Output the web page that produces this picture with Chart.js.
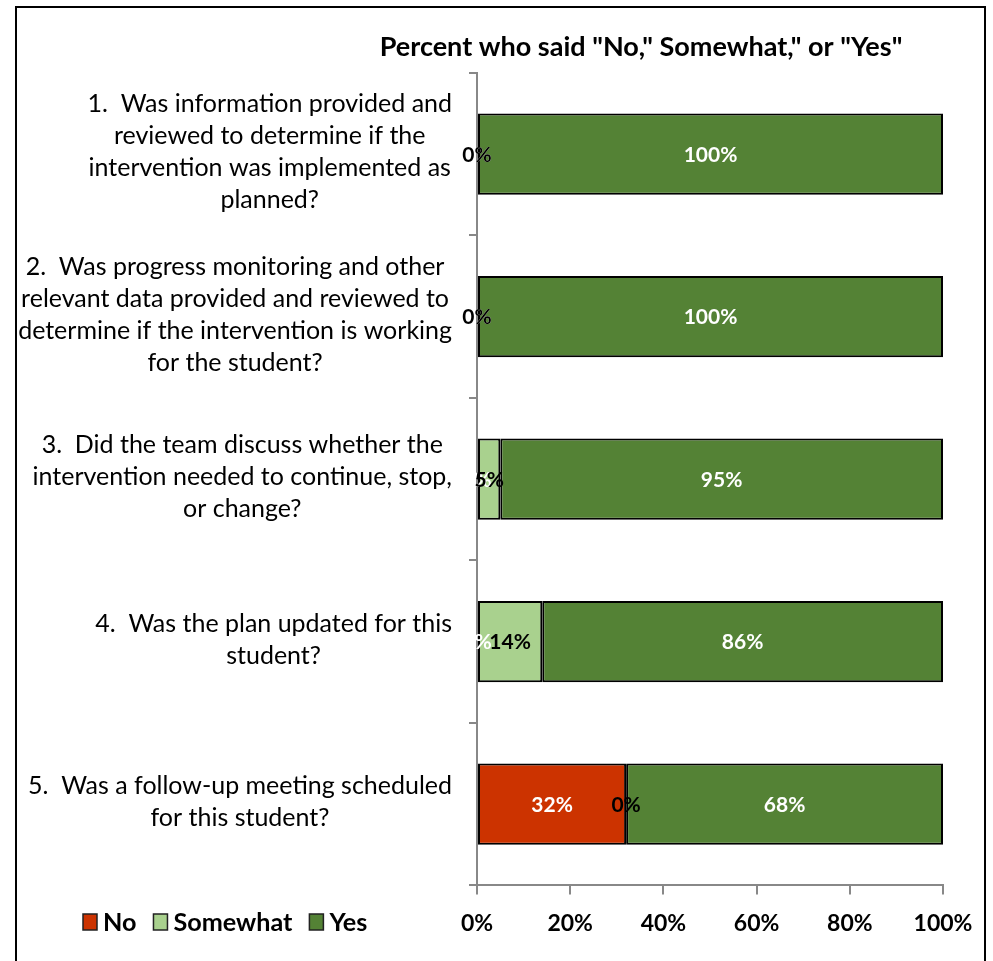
<!DOCTYPE html>
<html>
<head>
<meta charset="utf-8">
<script src="https://cdn.jsdelivr.net/npm/chart.js@4.4.1/dist/chart.umd.min.js"></script>
<style>
    html, body { margin: 0; padding: 0; background: #fff; overflow: hidden; }
    #wrap { position: relative; width: 993px; height: 961px; }
    #frame { position: absolute; left: 15px; top: 6px; width: 971px; height: 980px; border: 2px solid #000; box-sizing: border-box; pointer-events: none; }
    #surveyChart { position: absolute; left: 0; top: 0; }
</style>
</head>
<body>
<div id="wrap">
    <canvas id="surveyChart" width="993" height="961"></canvas>
    <div id="frame"></div>
</div>
<script>
// Survey data
const questions = [
    ['1.  Was information provided and', 'reviewed to determine if the', 'intervention was implemented as', 'planned?'],
    ['2.  Was progress monitoring and other', 'relevant data provided and reviewed to', 'determine if the intervention is working', 'for the student?'],
    ['3.  Did the team discuss whether the', 'intervention needed to continue, stop,', 'or change?'],
    ['4.  Was the plan updated for this', 'student?'],
    ['5.  Was a follow-up meeting scheduled', 'for this student?']
];
const seriesNames = ['No', 'Somewhat', 'Yes'];
const noValues = [0, 0, 0, 0, 32];
const somewhatValues = [0, 0, 5, 14, 0];
const yesValues = [100, 100, 95, 86, 68];
const xTickValues = [0, 20, 40, 60, 80, 100];
const chartTitle = 'Percent who said "No," Somewhat," or "Yes"';

const FONT = 'Lato, "Open Sans", sans-serif';
const seriesColors = ['#CC3300', '#A9D18E', '#548235'];
const labelColors = ['#ffffff', '#000000', '#ffffff'];

// fit a font size so that text reaches a target width
function fitSize(ctx, text, weight, target) {
    ctx.font = weight + ' 100px ' + FONT;
    return 100 * target / ctx.measureText(text).width;
}

const annotatePlugin = {
    id: 'annotate',
    afterDatasetsDraw(chart) {
        const ctx = chart.ctx;
        ctx.save();
        ctx.textAlign = 'center';
        ctx.textBaseline = 'middle';
        ctx.font = 'bold 21px ' + FONT;
        chart.data.datasets.forEach((ds, di) => {
            const meta = chart.getDatasetMeta(di);
            ctx.fillStyle = labelColors[di];
            meta.data.forEach((bar, i) => {
                const x = (bar.x + bar.base) / 2;
                ctx.fillText(ds.data[i] + '%', x, bar.y + 1);
            });
        });
        ctx.restore();
    },
    afterDraw(chart) {
        const ctx = chart.ctx;
        const yScale = chart.scales.y;
        ctx.save();
        ctx.fillStyle = '#000';
        ctx.textBaseline = 'middle';
        ctx.textAlign = 'center';

        // title
        const ts = fitSize(ctx, chartTitle, 'bold', 523);
        ctx.font = 'bold ' + ts + 'px ' + FONT;
        ctx.fillText(chartTitle, 641, 47);

        // question labels, each block right aligned, lines centred
        const qs = fitSize(ctx, 'determine if the intervention is working', 'normal', 434);
        ctx.font = qs + 'px ' + FONT;
        const lineH = 32;
        chart.data.labels.forEach((lines, i) => {
            const yc = yScale.getPixelForValue(i) - 2;
            const blockW = Math.max(...lines.map(l => ctx.measureText(l).width));
            const cx = 452 - blockW / 2;
            const y0 = yc - (lines.length - 1) * lineH / 2;
            lines.forEach((l, k) => ctx.fillText(l, cx, y0 + k * lineH));
        });

        // legend
        const ls = fitSize(ctx, 'Somewhat', 'bold', 119);
        ctx.font = 'bold ' + ls + 'px ' + FONT;
        ctx.textAlign = 'left';
        let lx = 83;
        const ly = 922;
        chart.data.datasets.forEach((ds) => {
            ctx.fillStyle = ds.backgroundColor;
            ctx.fillRect(lx, ly - 8, 14, 16);
            ctx.strokeStyle = '#222';
            ctx.lineWidth = 1.5;
            ctx.strokeRect(lx, ly - 8, 14, 16);
            ctx.fillStyle = '#000';
            ctx.fillText(ds.label, lx + 20, ly + 1);
            lx += 20 + ctx.measureText(ds.label).width + 17;
        });
        ctx.restore();
    }
};

const ctx = document.getElementById('surveyChart');
window.surveyChart = new Chart(ctx, {
    type: 'bar',
    data: {
        labels: questions,
        datasets: [
            { label: seriesNames[0], data: noValues, backgroundColor: seriesColors[0] },
            { label: seriesNames[1], data: somewhatValues, backgroundColor: seriesColors[1] },
            { label: seriesNames[2], data: yesValues, backgroundColor: seriesColors[2] }
        ]
    },
    options: {
        indexAxis: 'y',
        responsive: false,
        animation: false,
        layout: { padding: { left: 469, right: 50, top: 73, bottom: 9 } },
        datasets: {
            bar: {
                barPercentage: 0.5,
                categoryPercentage: 1.0,
                borderColor: '#000',
                borderWidth: 2,
                borderSkipped: false
            }
        },
        plugins: {
            legend: { display: false },
            title: { display: false },
            tooltip: { enabled: false }
        },
        scales: {
            x: {
                stacked: true,
                min: 0,
                max: 100,
                afterBuildTicks: (scale) => { scale.ticks = xTickValues.map(v => ({ value: v })); },
                ticks: {
                    callback: (v) => v + '%',
                    color: '#000',
                    font: { family: FONT, size: 23, weight: 'bold' },
                    padding: 15,
                    maxRotation: 0
                },
                grid: { drawOnChartArea: false, tickLength: 9, color: '#888', lineWidth: 2 },
                border: { color: '#888', width: 2 }
            },
            y: {
                stacked: true,
                ticks: { display: false },
                grid: { drawOnChartArea: false, tickLength: 8, color: '#888', lineWidth: 2, offset: true },
                border: { color: '#888', width: 2 }
            }
        }
    },
    plugins: [annotatePlugin]
});
</script>
</body>
</html>
